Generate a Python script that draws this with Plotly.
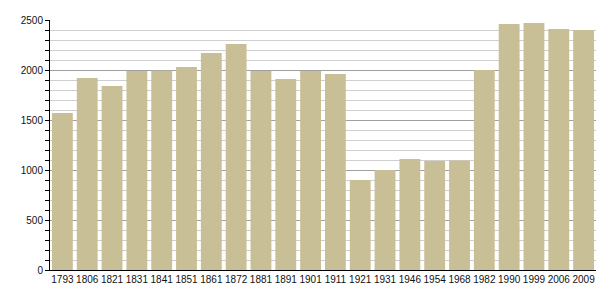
import plotly.graph_objects as go

years = ["1793", "1806", "1821", "1831", "1841", "1851", "1861", "1872", "1881", "1891", "1901",
         "1911", "1921", "1931", "1946", "1954", "1968", "1982", "1990", "1999", "2006", "2009"]
population = [1570, 1920, 1840, 1990, 1992, 2030, 2170, 2260, 1990, 1910, 1990,
              1960, 900, 1000, 1110, 1090, 1095, 2000, 2460, 2470, 2410, 2400]

fig = go.Figure(go.Bar(x=years, y=population, marker=dict(color="#C9BF97", line=dict(width=0))))

fig.update_layout(
    width=605, height=300,
    margin=dict(l=50, r=9, t=20, b=30),
    paper_bgcolor="white", plot_bgcolor="white",
    bargap=0.16,
    showlegend=False,
    font=dict(family="Liberation Sans, Arial, sans-serif", size=10, color="#111"),
)
fig.update_xaxes(
    type="category", showline=True, linecolor="black", linewidth=1,
    ticks="", showgrid=False, tickfont=dict(size=10), ticklabelstandoff=0,
)
fig.update_yaxes(
    range=[0, 2500], tickvals=[0, 500, 1000, 1500, 2000, 2500],
    showline=True, linecolor="black", linewidth=1,
    ticks="outside", ticklen=4, tickcolor="black",
    showgrid=True, gridcolor="#a0a0a0", gridwidth=1,
    zeroline=False,
    minor=dict(dtick=100, ticks="outside", ticklen=4, tickcolor="black",
               showgrid=True, gridcolor="#cfcfcf", gridwidth=1),
    tickfont=dict(size=10),
)

fig.write_html("out.html")
